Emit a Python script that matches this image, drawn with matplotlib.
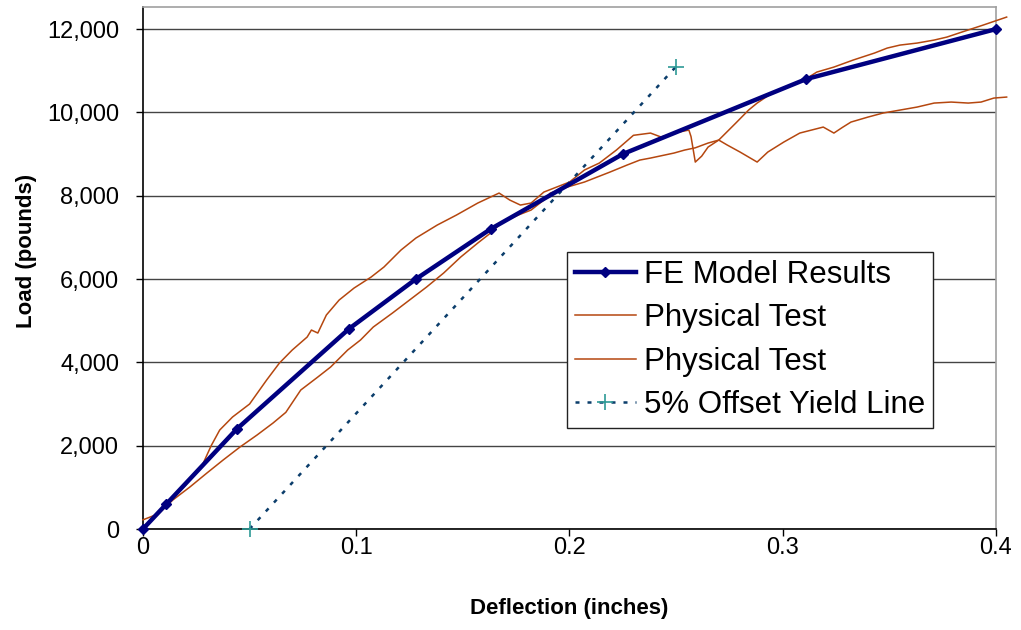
"""Load vs deflection: FE model against two physical tests"""

import matplotlib
matplotlib.use("Agg")
import matplotlib.pyplot as plt
from matplotlib.ticker import FuncFormatter

plt.rcParams['font.family'] = ['Liberation Sans', 'DejaVu Sans']

# FE model results
fe_x = [0, 0.011, 0.044, 0.0965, 0.128, 0.163, 0.225, 0.311, 0.4]
fe_y = [0, 600, 2400, 4800, 6000, 7200, 9000, 10800, 12000]

# physical test 1 (stiffer start, sharp drop near 0.26)
t1_x = [0, 0.006, 0.010, 0.020, 0.028, 0.032, 0.036, 0.042, 0.050, 0.058, 0.064,
        0.070, 0.077, 0.079, 0.082, 0.086, 0.092, 0.099, 0.107, 0.113, 0.121,
        0.128, 0.138, 0.147, 0.157, 0.167, 0.172, 0.177, 0.182, 0.188, 0.194,
        0.200, 0.207, 0.214, 0.222, 0.230, 0.238, 0.243, 0.249, 0.256, 0.257,
        0.259, 0.262, 0.265, 0.270, 0.278, 0.284, 0.288, 0.296, 0.302, 0.310,
        0.316, 0.324, 0.333, 0.343, 0.349, 0.355, 0.363, 0.371, 0.377, 0.384,
        0.394, 0.405]
t1_y = [220, 340, 560, 1050, 1550, 2000, 2376, 2688, 3000, 3576, 3984,
        4296, 4608, 4776, 4704, 5136, 5496, 5784, 6048, 6288, 6696,
        6984, 7296, 7536, 7824, 8064, 7896, 7776, 7824, 8088, 8208,
        8328, 8616, 8784, 9096, 9450, 9504, 9408, 9504, 9576, 9420,
        8808, 8950, 9168, 9336, 9744, 10056, 10224, 10500, 10608, 10776,
        10968, 11088, 11256, 11424, 11544, 11616, 11664, 11736, 11808, 11928,
        12096, 12288]

# physical test 2 (softer start, dip near 0.29)
t2_x = [0, 0.006, 0.014, 0.022, 0.030, 0.0376, 0.0455, 0.0535, 0.061, 0.067,
        0.074, 0.082, 0.088, 0.096, 0.102, 0.108, 0.117, 0.125, 0.133, 0.141,
        0.149, 0.157, 0.163, 0.168, 0.176, 0.182, 0.188, 0.191, 0.199, 0.207,
        0.219, 0.227, 0.233, 0.238, 0.249, 0.254, 0.259, 0.265, 0.270, 0.274,
        0.280, 0.288, 0.293, 0.3005, 0.308, 0.319, 0.324, 0.328, 0.332, 0.340,
        0.347, 0.355, 0.363, 0.371, 0.379, 0.387, 0.393, 0.399, 0.405]
t2_y = [0, 300, 696, 1008, 1344, 1656, 1968, 2256, 2544, 2800,
        3336, 3648, 3888, 4296, 4536, 4848, 5184, 5496, 5808, 6144,
        6528, 6864, 7104, 7344, 7536, 7656, 7896, 8064, 8208, 8328,
        8568, 8736, 8856, 8904, 9024, 9096, 9150, 9264, 9336, 9216,
        9048, 8808, 9048, 9288, 9504, 9648, 9504, 9640, 9768, 9888,
        9984, 10056, 10128, 10224, 10248, 10224, 10248, 10344, 10368]

# 5% offset yield line
yl_x = [0.05, 0.25]
yl_y = [0, 11100]

fig = plt.figure(figsize=(10.21, 6.30), dpi=100)
ax = fig.add_axes([0.140, 0.1603, 0.8355, 0.8286])

ax.plot(fe_x, fe_y, color='#000080', lw=3.2, marker='D', ms=5.5,
        label='FE Model Results', zorder=4, clip_on=False)
ax.plot(t1_x, t1_y, color='#B5470F', lw=1.1, label='Physical Test', zorder=3, clip_on=False)
ax.plot(t2_x, t2_y, color='#B5470F', lw=1.1, label='Physical Test', zorder=3, clip_on=False)
ax.plot(yl_x, yl_y, color='#0B3D6B', lw=1.8, ls=(0, (1.6, 3.2)),
        marker='+', ms=11, mec='#2E9A96', mew=1.2,
        label='5% Offset Yield Line', zorder=3, clip_on=False)

ax.set_xlim(0, 0.4)
ax.set_ylim(0, 12530)
ax.set_xticks([0, 0.1, 0.2, 0.3, 0.4])
ax.set_yticks(range(0, 12001, 2000))
ax.xaxis.set_major_formatter(FuncFormatter(lambda v, p: '0' if v == 0 else f'{v:g}'))
ax.yaxis.set_major_formatter(FuncFormatter(lambda v, p: f'{int(v):,}'))
ax.grid(axis='y', color='#444444', lw=1.0)
ax.set_axisbelow(True)

for s in ['top', 'right']:
    ax.spines[s].set_color('#A0A0A0')
    ax.spines[s].set_linewidth(1.2)
for s in ['left', 'bottom']:
    ax.spines[s].set_color('black')
    ax.spines[s].set_linewidth(1.2)

ax.tick_params(axis='both', direction='out', length=5, width=1.0, color='black')
ax.tick_params(axis='y', labelsize=17, pad=12)
ax.tick_params(axis='x', labelsize=17, pad=1)

ax.set_xlabel('Deflection (inches)', fontsize=16, fontweight='bold', labelpad=28)
ax.set_ylabel('Load (pounds)', fontsize=16, fontweight='bold')
ax.yaxis.set_label_coords(-0.124, 0.533)

leg = ax.legend(loc='upper left', bbox_to_anchor=(0.497, 0.531), borderaxespad=0,
                fontsize=22.5, fancybox=False, framealpha=1, edgecolor='#222222',
                handlelength=1.95, handletextpad=0.27, labelspacing=0.43,
                borderpad=0.25)
leg.get_frame().set_linewidth(1.0)

fig.savefig('out.png', dpi=100)
